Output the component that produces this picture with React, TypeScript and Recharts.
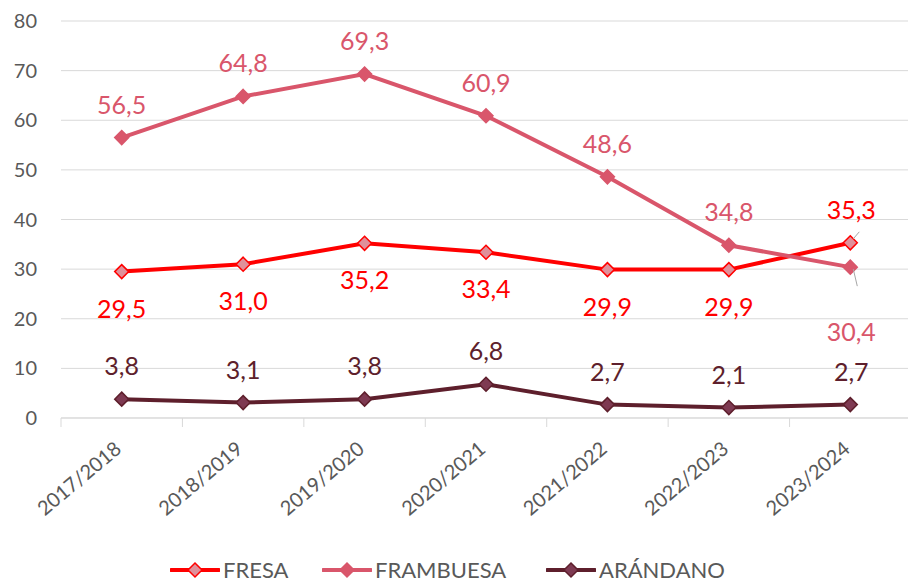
import React from "react";
import {
  LineChart,
  Line,
  XAxis,
  YAxis,
  CartesianGrid,
  Legend,
  LabelList,
} from "recharts";

const seasons = [
  "2017/2018",
  "2018/2019",
  "2019/2020",
  "2020/2021",
  "2021/2022",
  "2022/2023",
  "2023/2024",
];
const fresa = [29.5, 31.0, 35.2, 33.4, 29.9, 29.9, 35.3];
const frambuesa = [56.5, 64.8, 69.3, 60.9, 48.6, 34.8, 30.4];
const arandano = [3.8, 3.1, 3.8, 6.8, 2.7, 2.1, 2.7];
const yTicks = [0, 10, 20, 30, 40, 50, 60, 70, 80];

const data = seasons.map((season, i) => ({
  season,
  fresa: fresa[i],
  frambuesa: frambuesa[i],
  arandano: arandano[i],
}));

const FONT = "Lato, 'Open Sans', sans-serif";
const GRAY = "#595959";
const GRID = "#D9D9D9";

const CHART_W = 912;
const CHART_H = 584;
const LEFT = 61;
const RIGHT = 1;
const STEP = (CHART_W - LEFT - RIGHT) / seasons.length;

const series = [
  { key: "fresa", name: "FRESA", color: "#FF0000", fill: "#E0909A", stroke: "#FF0000", text: "#FF0000" },
  { key: "frambuesa", name: "FRAMBUESA", color: "#D9566B", fill: "#D9566B", stroke: "#D9566B", text: "#D9566B" },
  { key: "arandano", name: "ARÁNDANO", color: "#5E1F2C", fill: "#7E3A52", stroke: "#5E1F2C", text: "#5E1F2C" },
];

const fmt = (v: number) => v.toFixed(1).replace(".", ",");

function diamond(fill: string, stroke: string) {
  return (props: any) => {
    const { cx, cy, index } = props;
    if (cx == null || cy == null) return <g key={index} />;
    return (
      <path
        key={index}
        d={`M${cx},${cy - 7} L${cx + 7},${cy} L${cx},${cy + 7} L${cx - 7},${cy} Z`}
        fill={fill}
        stroke={stroke}
        strokeWidth={1.5}
      />
    );
  };
}

// where each series puts its value label
function labelFor(seriesKey: string, color: string) {
  return (props: any) => {
    const { x, y, value, index } = props;
    const last = index === seasons.length - 1;
    let dy = -34;
    let leader: number[] | null = null;
    if (seriesKey === "fresa") {
      if (last) {
        dy = -34;
        leader = [x + 9, y - 11, x + 3, y - 4];
      } else {
        dy = 36;
      }
    }
    if (seriesKey === "frambuesa" && last) {
      dy = 64;
      leader = [x + 3, y + 2, x + 7, y + 19];
    }
    return (
      <g key={index}>
        {leader && (
          <line x1={leader[0]} y1={leader[1]} x2={leader[2]} y2={leader[3]} stroke="#A6A6A6" strokeWidth={1} />
        )}
        <text
          x={x + (last ? 1 : 0)}
          y={y + dy}
          textAnchor="middle"
          dominantBaseline="central"
          fill={color}
          fontSize={25}
          fontFamily={FONT}
        >
          {fmt(value)}
        </text>
      </g>
    );
  };
}

function XTick(props: any) {
  const { x, y, payload, index } = props;
  const top = y - 8;
  const tx = x + 1;
  const ty = y + 25;
  return (
    <g>
      <line x1={x - STEP / 2} y1={top} x2={x - STEP / 2} y2={top + 9} stroke={GRID} />
      {index === seasons.length - 1 && (
        <line x1={x + STEP / 2} y1={top} x2={x + STEP / 2} y2={top + 9} stroke={GRID} />
      )}
      <text
        x={tx}
        y={ty}
        textAnchor="end"
        transform={`rotate(-40, ${tx}, ${ty})`}
        fill={GRAY}
        fontSize={20}
        fontFamily={FONT}
      >
        {payload.value}
      </text>
    </g>
  );
}

function LegendContent() {
  const widths = [152, 224, 200];
  return (
    <div style={{ display: "flex", paddingLeft: 170, fontFamily: FONT, fontSize: 22, color: GRAY, lineHeight: "22px" }}>
      {series.map((s, i) => (
        <div key={s.key} style={{ display: "flex", alignItems: "center", width: widths[i] }}>
          <svg width={50} height={18} style={{ marginRight: 3 }}>
            <line x1={1} y1={9} x2={49} y2={9} stroke={s.color} strokeWidth={4} strokeLinecap="round" />
            <path d="M25,2 L32,9 L25,16 L18,9 Z" fill={s.fill} stroke={s.stroke} strokeWidth={1.5} />
          </svg>
          <span>{s.name}</span>
        </div>
      ))}
    </div>
  );
}

export default function App() {
  return (
    <div style={{ width: 908, height: 584, overflow: "hidden", position: "absolute", left: 0, top: 0, background: "#fff" }}>
      <LineChart width={CHART_W} height={CHART_H} data={data} margin={{ top: 21, right: RIGHT, left: 0, bottom: 0 }}>
        <CartesianGrid vertical={false} stroke={GRID} />
        <XAxis
          dataKey="season"
          padding={{ left: STEP / 2, right: STEP / 2 }}
          axisLine={{ stroke: GRID }}
          tickLine={false}
          tick={<XTick />}
          interval={0}
          height={144}
        />
        <YAxis
          domain={[0, 80]}
          ticks={yTicks}
          width={LEFT}
          axisLine={false}
          tickLine={false}
          tickMargin={18}
          tick={{ fill: GRAY, fontSize: 20, fontFamily: FONT }}
        />
        <Legend verticalAlign="bottom" content={<LegendContent />} wrapperStyle={{ bottom: 3, left: 0, width: 908 }} />
        {series.map((s) => (
          <Line
            key={s.key}
            type="linear"
            dataKey={s.key}
            name={s.name}
            stroke={s.color}
            strokeWidth={4}
            dot={diamond(s.fill, s.stroke)}
            activeDot={false}
            isAnimationActive={false}
          >
            <LabelList dataKey={s.key} content={labelFor(s.key, s.text)} />
          </Line>
        ))}
      </LineChart>
    </div>
  );
}
